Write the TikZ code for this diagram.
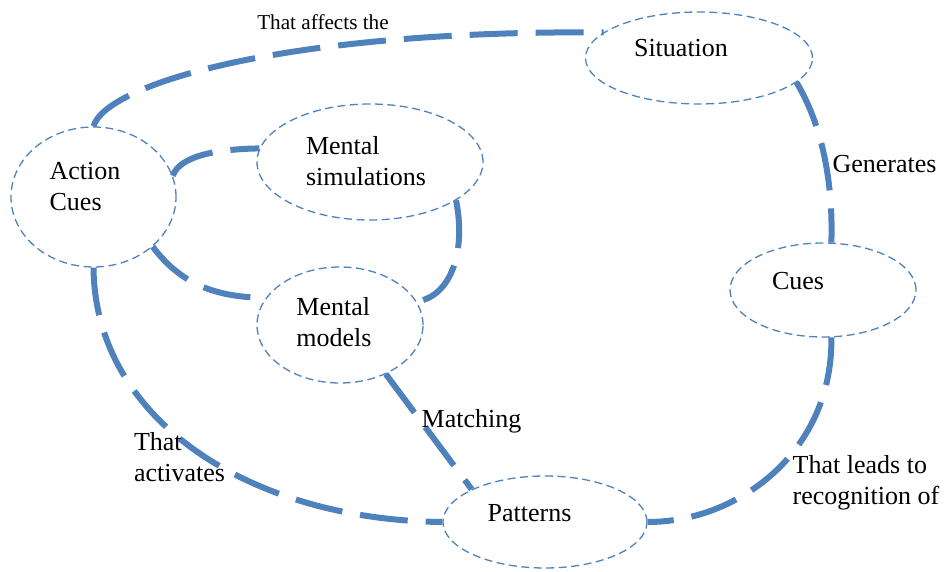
\documentclass[tikz,border=0pt]{standalone}
\usepackage{fontspec}
\setmainfont{Liberation Serif}
\usetikzlibrary{shapes.geometric}
\definecolor{linkblue}{RGB}{79,129,189}

\begin{document}
\begin{tikzpicture}[x=0.5pt,y=-0.5pt,
  idea/.style = {draw=linkblue, line width=0.65pt, dash pattern=on 4pt off 2.25pt, ellipse, inner sep=0pt},
  link/.style = {draw=linkblue, line width=3pt, dash pattern=on 24pt off 9pt},
  note/.style = {align=left, font=\fontsize{13}{15.5}\selectfont},
  every label/.style = {note}]
\useasboundingbox (0,0) rectangle (944,572);
\node[idea, minimum width=113.5pt, minimum height=46pt, label={[shift={(-18,-10)}]center:Situation}] (sit) at (699,58) {};
\node[idea, minimum width=82.5pt, minimum height=70pt, label={[shift={(-8.5,-10)}]center:Action\\Cues}] (ac) at (93.5,197) {};
\node[idea, minimum width=113pt, minimum height=58pt, label={[shift={(-4,-1)}]center:Mental\\simulations}] (ms) at (370,162) {};
\node[idea, minimum width=83pt, minimum height=58pt, label={[shift={(-6,-3)}]center:Mental\\models}] (mm) at (340,325) {};
\node[idea, minimum width=93pt, minimum height=47pt, label={[shift={(-25,-9)}]center:Cues}] (cues) at (823,290) {};
\node[idea, minimum width=102pt, minimum height=46pt, label={[shift={(-15.5,-9)}]center:Patterns}] (pat) at (545,522) {};
% links
\draw[link] (ac.north) .. controls (105,85) and (280,30) .. (sit.165);
\draw[link] (ac.15) .. controls (180,155) and (220,149) .. (ms.173);
\draw[link] (ac.-40) .. controls (185,290) and (225,297) .. (mm.160);
\draw[link] (ms.-24) .. controls (466,250) and (452,296) .. (mm.17);
\draw[link] (ac.south) .. controls (95,420) and (250,520) .. (pat.west);
\draw[link] (mm.-47) -- (pat.156);
\draw[link] (sit.-14) .. controls (825,130) and (833,190) .. (cues.80);
\draw[link] (cues.-80) .. controls (833,450) and (740,522) .. (pat.east);
% link texts
\node[note, font=\fontsize{10.6}{12}\selectfont] (aff) at (323,22) {That affects the};
\node[note] (gen) at (884.5,164) {Generates};
\node[note] (mat) at (471.5,421) {Matching};
\node[note] (act) at (179.5,457.5) {That\\activates};
\node[note] (rec) at (866,483) {That leads to\\recognition of};
\end{tikzpicture}
\end{document}
